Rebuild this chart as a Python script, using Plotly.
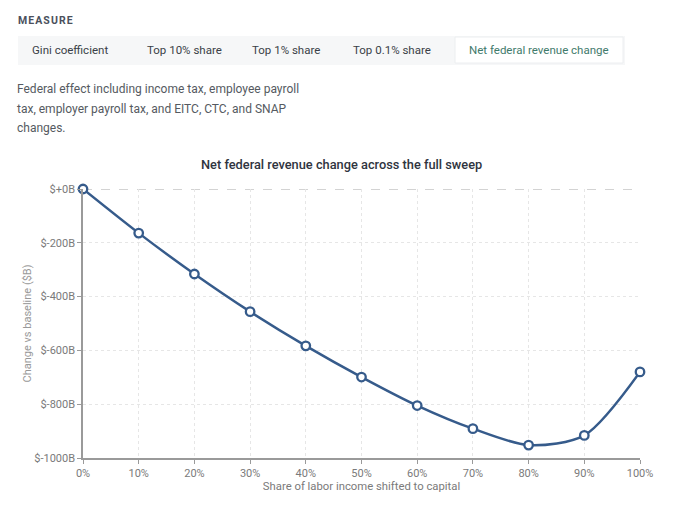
import plotly.graph_objects as go

shift_pct = [0, 10, 20, 30, 40, 50, 60, 70, 80, 90, 100]
revenue_change_b = [0, -164, -316, -456, -583, -699, -805, -891, -952, -916, -680]

y_tick_vals = [0, -200, -400, -600, -800, -1000]
y_tick_text = ["$+0B", "$-200B", "$-400B", "$-600B", "$-800B", "$-1000B"]
x_tick_vals = shift_pct
x_tick_text = [f"{v}%" for v in shift_pct]

tab_labels = ["Gini coefficient", "Top 10% share", "Top 1% share", "Top 0.1% share", "Net federal revenue change"]
tab_centers = [70, 184, 286, 392, 539]
selected_tab = 4
desc_lines = [
    "Federal effect including income tax, employee payroll",
    "tax, employer payroll tax, and EITC, CTC, and SNAP",
    "changes.",
]

OFF = 8  # page body margin
W, H = 680 - OFF, 513 - OFF
L, T = 83 - OFF, 189 - OFF
R, B = W - (640 - OFF), H - (458 - OFF)
pw, ph = W - L - R, H - T - B

def px_x(x):
    return (x - OFF - L) / pw

def px_y(y):
    return (H - B - (y - OFF)) / ph

FONT = "Roboto, sans-serif"
LINE = "#365b8b"

fig = go.Figure()
fig.add_trace(go.Scatter(
    x=shift_pct, y=revenue_change_b, mode="lines+markers",
    line=dict(color=LINE, width=2.5, shape="spline", smoothing=0.8),
    marker=dict(size=8.5, color="white", line=dict(color=LINE, width=2.3)),
    cliponaxis=False, hoverinfo="x+y", showlegend=False,
))

shapes = []
shapes.append(dict(type="rect", xref="paper", yref="paper",
                   x0=px_x(18), x1=px_x(625), y0=px_y(65), y1=px_y(36),
                   fillcolor="#f6f7f8", line=dict(width=0), layer="below"))
shapes.append(dict(type="rect", xref="paper", yref="paper",
                   x0=px_x(455), x1=px_x(623), y0=px_y(63), y1=px_y(37),
                   fillcolor="white", line=dict(color="#eceef0", width=1), layer="below"))
shapes.append(dict(type="line", xref="paper", yref="y", x0=0, x1=1, y0=0, y1=0,
                   line=dict(color="#a8a8a8", width=1.2, dash="dash"), layer="below"))

annotations = []
annotations.append(dict(text="<b>M\u200aE\u200aA\u200aS\u200aU\u200aR\u200aE</b>", x=px_x(16), y=px_y(20),
                        xref="paper", yref="paper", xanchor="left", yanchor="middle",
                        showarrow=False, font=dict(family=FONT, size=10.5, color="#4b505c")))
for i, (lab, cx) in enumerate(zip(tab_labels, tab_centers)):
    annotations.append(dict(text=lab, x=px_x(cx), y=px_y(50), xref="paper", yref="paper",
                            xanchor="center", yanchor="middle", showarrow=False,
                            font=dict(family=FONT, size=11.5,
                                      color="#3f7a6b" if i == selected_tab else "#3a3f47")))
for i, line in enumerate(desc_lines):
    annotations.append(dict(text=line, x=px_x(15), y=px_y(89 + i * 19.5), xref="paper", yref="paper",
                            xanchor="left", yanchor="middle", showarrow=False,
                            font=dict(family=FONT, size=12, color="#555a61")))
annotations.append(dict(text="Net federal revenue change across the full sweep", x=px_x(341), y=px_y(164),
                        xref="paper", yref="paper", xanchor="center", yanchor="middle",
                        showarrow=False, font=dict(family=FONT, size=12.8, color="#2f3440", weight=500)))

fig.update_layout(
    width=W, height=H, margin=dict(l=L, r=R, t=T, b=B, autoexpand=False),
    paper_bgcolor="white", plot_bgcolor="white",
    font=dict(family=FONT, size=11, color="#777"),
    shapes=shapes, annotations=annotations,
    xaxis=dict(range=[0, 100], tickvals=x_tick_vals, ticktext=x_tick_text,
               showgrid=True, gridcolor="#e6e6e6", griddash="dot", gridwidth=1,
               showline=True, linecolor="#9a9a9a", linewidth=1.5,
               ticks="outside", ticklen=4, tickcolor="#9a9a9a",
               tickfont=dict(size=11, color="#7a7a7a"), zeroline=False,
               title=dict(text="Share of labor income shifted to capital", standoff=2,
                          font=dict(size=11.3, color="#7a7a7a"))),
    yaxis=dict(range=[-1000, 0], tickvals=y_tick_vals, ticktext=y_tick_text,
               showgrid=True, gridcolor="#e6e6e6", griddash="dot", gridwidth=1,
               showline=True, linecolor="#9a9a9a", linewidth=1.5,
               ticks="outside", ticklen=4, tickcolor="#9a9a9a",
               tickfont=dict(size=11, color="#7a7a7a"), zeroline=False,
               title=dict(text="Change vs baseline ($B)", standoff=0,
                          font=dict(size=11, color="#999"))),
)

fig.write_html("out.html")
